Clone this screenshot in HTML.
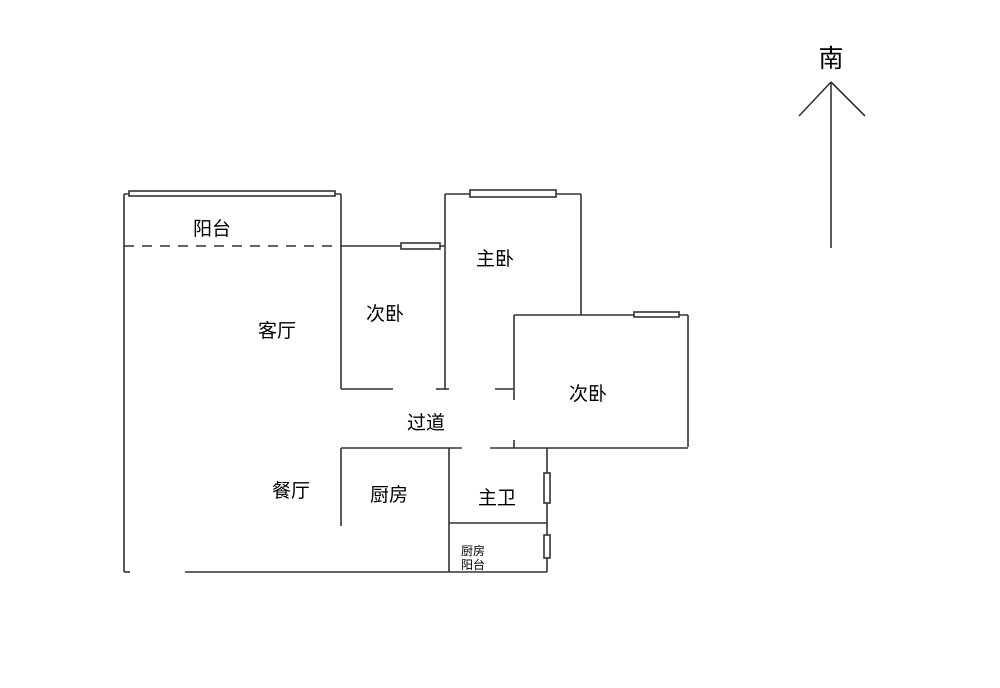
<!DOCTYPE html>
<html><head><meta charset="utf-8"><style>
html,body{margin:0;padding:0;background:#fff}
svg{display:block}
text{font-family:"Liberation Sans","Noto Sans CJK SC",sans-serif;fill:#000}
</style></head><body>
<svg width="1000" height="688" viewBox="0 0 1000 688" xmlns="http://www.w3.org/2000/svg">
<g stroke="#333" stroke-width="1.6" fill="none">
<!-- left balcony/living -->
<line x1="124" y1="194" x2="124" y2="572"/>
<line x1="124" y1="194" x2="341" y2="194"/>
<rect x="129" y="191" width="206" height="5" fill="#fff"/>
<line x1="341" y1="194" x2="341" y2="389"/>
<line x1="124" y1="246" x2="341" y2="246" stroke-dasharray="10,8"/>
<line x1="341" y1="246" x2="401" y2="246"/>
<rect x="401" y="243" width="39" height="6" fill="#fff"/>
<line x1="440" y1="246" x2="445" y2="246"/>
<!-- master bedroom -->
<line x1="445" y1="194" x2="445" y2="389"/>
<line x1="445" y1="194" x2="581" y2="194"/>
<rect x="470" y="190" width="86" height="7" fill="#fff"/>
<line x1="581" y1="194" x2="581" y2="315"/>
<!-- second bedroom right -->
<line x1="514" y1="315" x2="688" y2="315"/>
<rect x="634" y="312" width="45" height="5" fill="#fff"/>
<line x1="688" y1="315" x2="688" y2="447"/>
<line x1="514" y1="315" x2="514" y2="400"/>
<line x1="514" y1="440" x2="514" y2="448"/>
<!-- bottom of small bedroom -->
<line x1="341" y1="389" x2="393" y2="389"/>
<line x1="436" y1="389" x2="449" y2="389"/>
<line x1="495" y1="389" x2="514" y2="389"/>
<!-- kitchen/bath -->
<line x1="341" y1="448" x2="462" y2="448"/>
<line x1="490" y1="448" x2="688" y2="448"/>
<line x1="341" y1="448" x2="341" y2="526"/>
<line x1="449" y1="448" x2="449" y2="572"/>
<line x1="449" y1="523" x2="547" y2="523"/>
<line x1="547" y1="448" x2="547" y2="572"/>
<rect x="544" y="473" width="6" height="30" fill="#fff"/>
<rect x="544" y="535" width="6" height="23" fill="#fff"/>
<line x1="124" y1="572" x2="130" y2="572"/>
<line x1="185" y1="572" x2="547" y2="572"/>
<!-- compass -->
<line x1="831" y1="82" x2="831" y2="248"/>
<line x1="831" y1="82" x2="799" y2="116"/>
<line x1="831" y1="82" x2="865" y2="116"/>
</g>
<g font-size="19" text-anchor="middle">
<text x="212" y="235">阳台</text>
<text x="277" y="337">客厅</text>
<text x="385" y="320">次卧</text>
<text x="495" y="265">主卧</text>
<text x="588" y="400">次卧</text>
<text x="426" y="429">过道</text>
<text x="291" y="497">餐厅</text>
<text x="389" y="501">厨房</text>
<text x="497" y="504">主卫</text>
<text x="831" y="67" font-size="25">南</text>
</g>
<g font-size="12">
<text x="461" y="555">厨房</text>
<text x="461" y="569">阳台</text>
</g>
</svg>
</body></html>
